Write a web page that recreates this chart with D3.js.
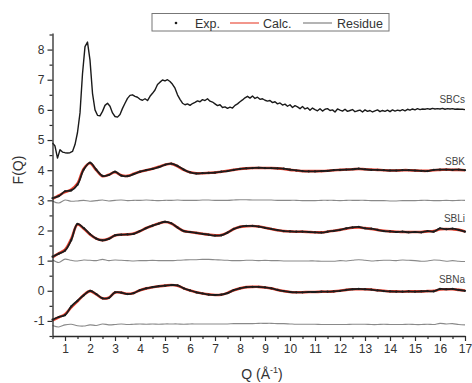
<!DOCTYPE html>
<html>
<head>
<meta charset="utf-8">
<script src="https://cdn.jsdelivr.net/npm/d3@7"></script>
<style>
  html, body { margin: 0; padding: 0; background: #fff; }
  svg { display: block; font-family: "Liberation Sans", Arial, sans-serif; }
</style>
</head>
<body>
<svg id="chart" width="472" height="383"></svg>
<script>
// ---------- DATA ----------
// Q grid (Å^-1) shared by SBK / SBLi / SBNa, step 0.25 from 0.5 to 17
const qGrid = d3.range(67).map(i => 0.5 + i * 0.25);
// Q grid for SBCs (finer, step 0.1)
const qCs = d3.range(166).map(i => 0.5 + i * 0.1);

const xTicks = [1, 2, 3, 4, 5, 6, 7, 8, 9, 10, 11, 12, 13, 14, 15, 16, 17];
const yTicks = [-1, 0, 1, 2, 3, 4, 5, 6, 7, 8];

const sbcsExp = [
  4.90, 4.80, 4.40, 4.68, 4.60, 4.58, 4.57, 4.58, 4.62, 4.85,
  5.25, 5.90, 7.20, 8.10, 8.25, 7.65, 6.55, 6.00, 5.82, 5.80,
  5.95, 6.15, 6.22, 6.12, 5.90, 5.78, 5.76, 5.85, 6.05, 6.22,
  6.38, 6.48, 6.50, 6.45, 6.42, 6.35, 6.32, 6.37, 6.31, 6.45,
  6.55, 6.66, 6.84, 6.92, 6.99, 6.96, 7.00, 6.94, 6.85, 6.72,
  6.50, 6.35, 6.22, 6.17, 6.20, 6.15, 6.21, 6.25, 6.30, 6.27,
  6.34, 6.31, 6.37, 6.29, 6.26, 6.20, 6.14, 6.17, 6.08, 6.10,
  6.05, 6.09, 6.06, 6.15, 6.20, 6.27, 6.33, 6.40, 6.45, 6.39,
  6.46, 6.38, 6.42, 6.35, 6.37, 6.32, 6.29, 6.31, 6.24, 6.27,
  6.20, 6.23, 6.16, 6.19, 6.12, 6.17, 6.08, 6.14, 6.10, 6.04,
  6.11, 6.03, 6.07, 5.99, 6.06, 6.01, 5.97, 6.04, 5.96, 6.02,
  6.04, 5.98, 6.00, 5.93, 6.03, 5.99, 5.96, 6.02, 5.95, 5.98,
  6.01, 5.94, 5.97, 5.99, 5.93, 6.00, 5.95, 5.98, 5.93, 5.97,
  6.00, 5.94, 5.98, 5.95, 5.99, 5.94, 6.00, 5.96, 5.99, 5.97,
  6.01, 5.97, 6.02, 5.99, 6.03, 6.00, 6.04, 6.01, 6.03, 6.02,
  6.04, 6.02, 6.05, 6.03, 6.04, 6.03, 6.05, 6.02, 6.04, 6.03,
  6.04, 6.02, 6.03, 6.02, 6.02, 6.01
];

const sbkExp = [
  3.07, 3.14, 3.30, 3.33, 3.52, 4.02, 4.25, 4.02, 3.81, 3.84,
  3.95, 3.82, 3.80, 3.87, 3.95, 4.00, 4.04, 4.10, 4.18, 4.22,
  4.14, 4.02, 3.93, 3.89, 3.90, 3.91, 3.92, 3.95, 3.97, 4.01,
  4.04, 4.06, 4.07, 4.08, 4.07, 4.07, 4.06, 4.05, 4.02, 3.99,
  3.97, 3.96, 3.96, 3.97, 3.98, 4.00, 4.01, 4.02, 4.03, 4.05,
  4.03, 4.01, 4.01, 4.00, 3.99, 3.99, 4.00, 4.00, 3.99, 3.98,
  3.97, 4.01, 4.02, 4.02, 4.01, 4.02, 4.00
];
const sbkCalc = [
  3.05, 3.16, 3.27, 3.36, 3.56, 4.05, 4.23, 4.00, 3.80, 3.85,
  3.93, 3.83, 3.81, 3.88, 3.95, 4.00, 4.05, 4.11, 4.18, 4.21,
  4.13, 4.01, 3.93, 3.90, 3.90, 3.91, 3.92, 3.95, 3.98, 4.01,
  4.04, 4.06, 4.07, 4.07, 4.07, 4.07, 4.06, 4.04, 4.01, 3.99,
  3.97, 3.97, 3.97, 3.97, 3.98, 4.00, 4.01, 4.02, 4.03, 4.04,
  4.03, 4.02, 4.01, 4.00, 3.99, 3.99, 4.00, 4.00, 3.99, 3.98,
  3.98, 4.00, 4.01, 4.02, 4.01, 4.01, 4.00
];
const sbkRes = [
  2.98, 2.91, 3.01, 2.97, 2.98, 3.00, 2.97, 2.99, 3.01, 2.98,
  3.00, 3.01, 2.99, 3.00, 3.00, 3.01, 3.00, 2.99, 3.00, 3.00,
  3.01, 3.00, 3.00, 3.00, 3.01, 3.01, 3.00, 3.00, 3.00, 3.01,
  3.02, 3.02, 3.01, 3.01, 3.01, 3.01, 3.00, 3.00, 3.00, 3.00,
  2.99, 2.99, 2.99, 3.00, 3.00, 3.00, 2.99, 3.00, 3.00, 3.00,
  3.00, 2.99, 2.99, 2.99, 2.98, 2.98, 2.99, 2.99, 2.99, 3.00,
  3.00, 2.99, 2.99, 3.00, 2.99, 3.00, 3.00
];

const sbliExp = [
  1.13, 1.23, 1.33, 1.68, 2.22, 2.08, 1.88, 1.73, 1.67, 1.72,
  1.84, 1.86, 1.87, 1.89, 1.98, 2.08, 2.16, 2.23, 2.29, 2.24,
  2.10, 1.98, 1.95, 1.92, 1.89, 1.86, 1.83, 1.84, 1.93, 2.05,
  2.12, 2.15, 2.15, 2.13, 2.09, 2.05, 2.01, 1.98, 1.97, 1.96,
  1.96, 1.95, 1.94, 1.93, 1.96, 1.99, 2.02, 2.07, 2.10, 2.12,
  2.07, 2.06, 2.02, 1.98, 1.97, 1.95, 1.96, 1.94, 1.95, 1.94,
  1.98, 1.96, 2.07, 2.04, 2.06, 2.02, 1.96
];
const sbliCalc = [
  1.11, 1.24, 1.36, 1.72, 2.20, 2.06, 1.87, 1.73, 1.68, 1.73,
  1.83, 1.86, 1.87, 1.90, 1.98, 2.08, 2.16, 2.23, 2.28, 2.23,
  2.10, 1.98, 1.95, 1.92, 1.89, 1.86, 1.84, 1.85, 1.93, 2.05,
  2.12, 2.14, 2.15, 2.13, 2.09, 2.05, 2.01, 1.98, 1.97, 1.96,
  1.96, 1.95, 1.94, 1.94, 1.96, 1.99, 2.02, 2.06, 2.09, 2.10,
  2.08, 2.05, 2.02, 1.99, 1.97, 1.96, 1.95, 1.95, 1.95, 1.95,
  1.97, 1.98, 2.04, 2.05, 2.04, 2.02, 1.97
];
const sbliRes = [
  1.03, 0.94, 1.05, 1.01, 0.99, 1.02, 1.01, 1.00, 1.04, 1.00,
  1.02, 1.01, 1.00, 0.99, 1.00, 1.00, 1.01, 1.00, 1.00, 1.00,
  1.01, 1.02, 1.03, 1.03, 1.04, 1.04, 1.03, 1.02, 1.01, 1.00,
  1.00, 1.01, 1.01, 1.00, 1.01, 1.00, 1.00, 0.99, 0.99, 0.99,
  0.99, 0.99, 0.99, 0.98, 0.98, 0.98, 1.00, 0.99, 1.01, 1.03,
  1.01, 0.99, 1.00, 1.01, 1.01, 1.00, 1.02, 1.01, 1.00, 0.98,
  0.99, 1.02, 1.01, 0.98, 1.00, 0.98, 0.97
];

const sbnaExp = [
  -0.96, -0.87, -0.81, -0.52, -0.33, -0.15, 0.00, -0.11, -0.25, -0.24,
  -0.05, -0.06, -0.11, -0.08, 0.02, 0.08, 0.12, 0.15, 0.17, 0.19,
  0.18, 0.08, 0.01, -0.05, -0.09, -0.13, -0.14, -0.13, -0.08, 0.02,
  0.08, 0.12, 0.13, 0.13, 0.11, 0.08, 0.03, -0.01, -0.04, -0.05,
  -0.05, -0.04, -0.04, -0.03, -0.03, -0.02, 0.00, 0.03, 0.05, 0.06,
  0.05, 0.04, 0.01, -0.01, -0.02, -0.03, -0.03, -0.02, -0.03, -0.02,
  -0.01, -0.02, 0.06, 0.05, 0.06, 0.03, 0.00
];
const sbnaCalc = [
  -0.98, -0.88, -0.78, -0.55, -0.35, -0.14, -0.01, -0.12, -0.25, -0.23,
  -0.06, -0.06, -0.10, -0.07, 0.02, 0.08, 0.12, 0.15, 0.17, 0.19,
  0.17, 0.08, 0.01, -0.05, -0.09, -0.12, -0.14, -0.13, -0.07, 0.02,
  0.08, 0.12, 0.13, 0.13, 0.11, 0.08, 0.03, -0.01, -0.04, -0.05,
  -0.05, -0.04, -0.04, -0.03, -0.03, -0.02, 0.00, 0.03, 0.05, 0.05,
  0.05, 0.04, 0.02, 0.00, -0.02, -0.02, -0.03, -0.02, -0.02, -0.02,
  -0.01, 0.00, 0.04, 0.05, 0.05, 0.03, 0.01
];
const sbnaRes = [
  -1.15, -1.20, -1.13, -1.11, -1.16, -1.17, -1.13, -1.15, -1.10, -1.13,
  -1.12, -1.10, -1.12, -1.11, -1.10, -1.11, -1.10, -1.11, -1.10, -1.10,
  -1.10, -1.11, -1.10, -1.10, -1.10, -1.10, -1.10, -1.10, -1.10, -1.09,
  -1.09, -1.09, -1.09, -1.08, -1.08, -1.08, -1.09, -1.09, -1.10, -1.11,
  -1.11, -1.11, -1.11, -1.12, -1.12, -1.12, -1.12, -1.12, -1.11, -1.11,
  -1.11, -1.12, -1.12, -1.11, -1.12, -1.12, -1.12, -1.11, -1.12, -1.12,
  -1.11, -1.12, -1.08, -1.10, -1.09, -1.12, -1.13
];

const seriesNames = ["SBCs", "SBK", "SBLi", "SBNa"];

(function () {
  const samples = [
    { exp: sbkExp,  calc: sbkCalc,  res: sbkRes },
    { exp: sbliExp, calc: sbliCalc, res: sbliRes },
    { exp: sbnaExp, calc: sbnaCalc, res: sbnaRes }
  ];

  // ---------- LAYOUT ----------
  const svg = d3.select("#chart");
  const mLeft = 52.5, mRight = 465, mTop = 33, mBottom = 336;
  const x = d3.scaleLinear().domain([0.5, 17]).range([mLeft, mRight]);
  const y = d3.scaleLinear().domain([-1.5, 8.55]).range([mBottom, mTop]);

  const axisColor = "#2a2a2a";
  const textColor = "#333";

  const line = (qs, curve) => d3.line()
    .x((d, i) => x(qs[i]))
    .y(d => y(d))
    .curve(curve || d3.curveCatmullRom.alpha(0.5));

  const plot = svg.append("g");

  // SBCs (noisy experimental curve)
  plot.append("path").datum(sbcsExp)
    .attr("d", line(qCs, d3.curveLinear))
    .attr("fill", "none").attr("stroke", "#1a1a1a").attr("stroke-width", 1.4)
    .attr("stroke-linejoin", "round");

  samples.forEach(s => {
    plot.append("path").datum(s.res)
      .attr("d", line(qGrid))
      .attr("fill", "none").attr("stroke", "#8a8a8a").attr("stroke-width", 1.1);
    plot.append("path").datum(s.calc)
      .attr("d", line(qGrid))
      .attr("fill", "none").attr("stroke", "#e8402e").attr("stroke-width", 2.6);
    plot.append("path").datum(s.exp)
      .attr("d", line(qGrid))
      .attr("fill", "none").attr("stroke", "#1c1c1c").attr("stroke-width", 1.8);
    plot.selectAll(null).data(s.exp).enter().append("circle")
      .attr("cx", (d, i) => x(qGrid[i]))
      .attr("cy", d => y(d))
      .attr("r", 1.1)
      .attr("fill", "#1c1c1c");
  });

  // Series labels
  const labelPix = [103, 165, 222, 283];
  svg.selectAll(".slabel").data(seriesNames).enter().append("text")
    .attr("x", 465).attr("y", (d, i) => labelPix[i])
    .attr("text-anchor", "end")
    .attr("font-size", 10)
    .attr("fill", "#444")
    .text(d => d);

  // ---------- AXES ----------
  const xAxis = svg.append("g").attr("transform", `translate(0,${mBottom})`)
    .call(d3.axisBottom(x).tickValues(xTicks).tickSize(5).tickSizeOuter(0).tickPadding(3)
      .tickFormat(d => String(d)));
  const xMinor = svg.append("g").attr("transform", `translate(0,${mBottom})`)
    .call(d3.axisBottom(x).tickValues(d3.range(0.5, 17, 1)).tickSize(3).tickSizeOuter(0).tickFormat(""));
  xMinor.select(".domain").remove();

  const yAxis = svg.append("g").attr("transform", `translate(${mLeft},0)`)
    .call(d3.axisLeft(y).tickValues(yTicks).tickSize(5).tickSizeOuter(0).tickPadding(3)
      .tickFormat(d => String(d)));
  const yMinor = svg.append("g").attr("transform", `translate(${mLeft},0)`)
    .call(d3.axisLeft(y).tickValues(d3.range(-1.5, 8.6, 1)).tickSize(3).tickSizeOuter(0).tickFormat(""));
  yMinor.select(".domain").remove();

  [xAxis, yAxis, xMinor, yMinor].forEach(g => {
    g.selectAll(".domain").attr("stroke", axisColor).attr("stroke-width", 1.3);
    g.selectAll(".tick line").attr("stroke", axisColor).attr("stroke-width", 1.2);
    g.selectAll(".tick text").attr("fill", textColor).attr("font-size", 12)
      .attr("font-family", "'Liberation Sans', Arial, sans-serif");
  });

  // Axis titles
  svg.append("text")
    .attr("transform", "translate(23,170) rotate(-90)")
    .attr("text-anchor", "middle")
    .attr("font-size", 14).attr("fill", textColor)
    .text("F(Q)");

  const xt = svg.append("text")
    .attr("x", 262).attr("y", 379)
    .attr("text-anchor", "middle")
    .attr("font-size", 14).attr("fill", textColor);
  xt.append("tspan").text("Q (Å");
  xt.append("tspan").attr("font-size", 9).attr("dy", -6).text("-1");
  xt.append("tspan").attr("dy", 6).text(")");

  // ---------- LEGEND ----------
  const lg = svg.append("g");
  lg.append("rect").attr("x", 152).attr("y", 13.5).attr("width", 237).attr("height", 17.5)
    .attr("fill", "#fff").attr("stroke", "#777").attr("stroke-width", 1);
  const legendItems = [
    { kind: "dot",  color: "#1c1c1c", label: "Exp.",    x0: 170, x1: 182, tx: 195 },
    { kind: "line", color: "#e8402e", label: "Calc.",   x0: 230, x1: 259, tx: 263 },
    { kind: "line", color: "#777",    label: "Residue", x0: 303, x1: 332, tx: 337 }
  ];
  legendItems.forEach(it => {
    if (it.kind === "dot") {
      lg.append("circle").attr("cx", (it.x0 + it.x1) / 2).attr("cy", 23).attr("r", 1.3).attr("fill", it.color);
    } else {
      lg.append("line").attr("x1", it.x0).attr("x2", it.x1).attr("y1", 23).attr("y2", 23)
        .attr("stroke", it.color).attr("stroke-width", 1.1);
    }
    lg.append("text").attr("x", it.tx).attr("y", 27.5)
      .attr("font-size", 12.5).attr("fill", textColor).text(it.label);
  });
})();
</script>
</body>
</html>
